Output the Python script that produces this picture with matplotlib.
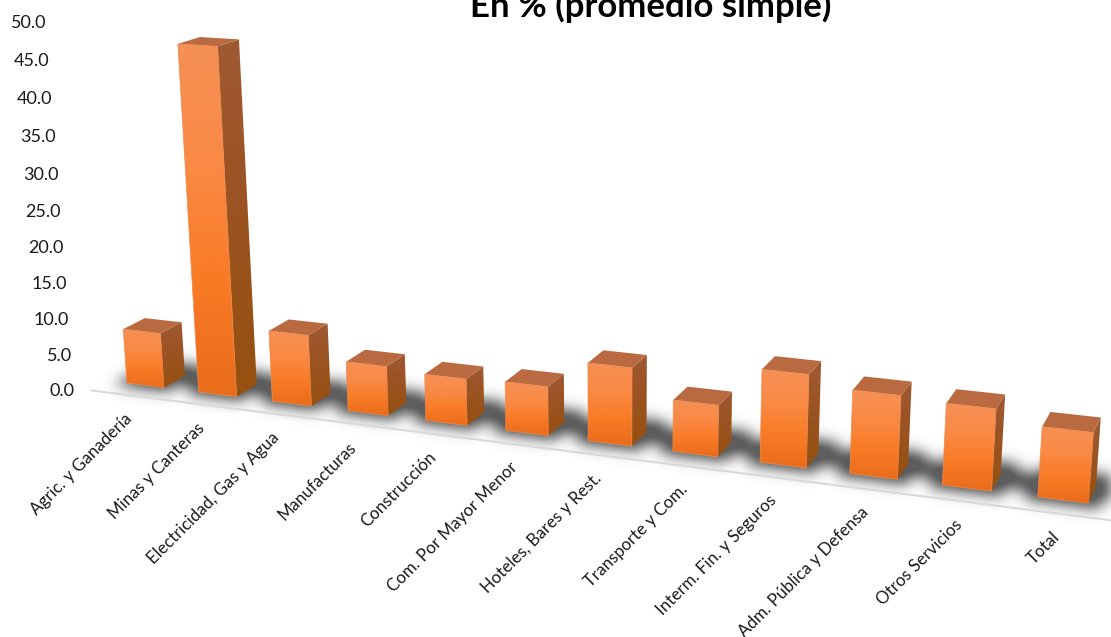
import numpy as np
import matplotlib
matplotlib.use('Agg')
import matplotlib.pyplot as plt
from matplotlib.colors import LinearSegmentedColormap
from matplotlib.path import Path
from matplotlib.patches import Polygon

plt.rcParams['font.family'] = ['Lato', 'DejaVu Sans']

categorias = ['Agric. y Ganadería', 'Minas y Canteras', 'Electricidad, Gas y Agua',
              'Manufacturas', 'Construcción', 'Com. Por Mayor Menor',
              'Hoteles, Bares y Rest.', 'Transporte y Com.', 'Interm. Fin. y Seguros',
              'Adm. Pública y Defensa', 'Otros Servicios', 'Total']
valores = [7.7, 47.2, 9.8, 6.75, 6.3, 6.55, 10.3, 6.73, 11.96, 10.6, 10.26, 8.72]
marcas_y = [0, 5, 10, 15, 20, 25, 30, 35, 40, 45, 50]
titulo = 'En % (promedio simple)'

ANCHO_BARRA = 0.519


def proy(s, h, d):
    # perspectiva del grafico 3D: s = categoria, h = valor, d = fondo
    w = 1 - 0.0132 * s - 0.001 * h + 0.0159 * d
    x = 127 + 69.1 * s - 0.614 * h + 23.7 * d
    y = 383 + 3.8 * s - 7.32 * h - 5.9 * d
    return x / w, y / w


def rellenar(ax, puntos, colores, zorder):
    pts = np.array(puntos)
    cmap = LinearSegmentedColormap.from_list('g', colores)
    im = ax.imshow(np.linspace(0, 1, 128).reshape(-1, 1), cmap=cmap, aspect='auto',
                   extent=(pts[:, 0].min(), pts[:, 0].max(), pts[:, 1].max(), pts[:, 1].min()),
                   zorder=zorder, interpolation='bilinear')
    clip = Polygon(pts, closed=True, transform=ax.transData, fc='none', ec='none')
    ax.add_patch(clip)
    im.set_clip_path(clip)


def sombra(ax):
    yy, xx = np.mgrid[0:637, 0:1111]
    grid = np.column_stack([xx.ravel() + 0.5, yy.ravel() + 0.5])
    masc = np.zeros(len(grid), dtype=bool)
    for i in range(len(valores)):
        s0, s1 = i - 0.12, i + ANCHO_BARRA + 0.12
        d0, d1 = -0.25, 1.85
        p = [proy(s0, 0, d0), proy(s1, 0, d0), proy(s1, 0, d1), proy(s0, 0, d1)]
        masc |= Path(p).contains_points(grid)
        # franja continua entre barras
        s2 = s1 + 0.3
        p = [proy(s1 - 0.1, 0, 0.3), proy(s2, 0, 0.3), proy(s2, 0, 1.4), proy(s1 - 0.1, 0, 1.4)]
        masc |= Path(p).contains_points(grid)
    m = masc.reshape(xx.shape).astype(float)
    t = np.arange(-20, 21)
    k = np.exp(-t ** 2 / (2 * 7.0 ** 2))
    k /= k.sum()
    m = np.apply_along_axis(lambda f: np.convolve(f, k, mode='same'), 0, m)
    m = np.apply_along_axis(lambda f: np.convolve(f, k, mode='same'), 1, m)
    rgba = np.zeros(m.shape + (4,))
    rgba[..., :3] = 0.33
    rgba[..., 3] = np.clip(m * 1.15, 0, 1) * 0.95
    ax.imshow(rgba, extent=(0, 1111, 637, 0), aspect='auto', zorder=1, interpolation='bilinear')


fig = plt.figure(figsize=(11.11, 6.37), dpi=100)
ax = fig.add_axes([0, 0, 1, 1])
ax.axis('off')

sombra(ax)

# linea del piso
x0, y0 = proy(-0.25, 0, -0.8)
x1, y1 = proy(11.8, 0, -0.8)
ax.plot([x0, x1], [y0, y1], color='#d9d9d9', lw=1.5, zorder=2)

for i, v in enumerate(valores):
    s0, s1 = i, i + ANCHO_BARRA
    frente = [proy(s0, v, 0), proy(s1, v, 0), proy(s1, 0, 0), proy(s0, 0, 0)]
    lado = [proy(s1, v, 0), proy(s1, v, 1), proy(s1, 0, 1), proy(s1, 0, 0)]
    arriba = [proy(s0, v, 0), proy(s0, v, 1), proy(s1, v, 1), proy(s1, v, 0)]
    rellenar(ax, frente, ['#f69055', '#f98a45', '#f97b26', '#e96c1b'], 3)
    rellenar(ax, lado, ['#a05a32', '#9c5427', '#99521a', '#96500f'], 3)
    ax.add_patch(Polygon(arriba, closed=True, fc='#b96a41', ec='none', zorder=3))
    ax.add_patch(Polygon(frente, closed=True, fc='none', ec='#f08a50', lw=0.5, zorder=4))

# etiquetas del eje y
for m in marcas_y:
    x, y = proy(-0.25, m, -0.8)
    ax.text(x - 17, y + 0.5, f'{m:.1f}', ha='right', va='center', fontsize=13, color='#1a1a1a', zorder=5)

# etiquetas de categorias
for i, c in enumerate(categorias):
    x, y = proy(i + ANCHO_BARRA / 2, 0, -0.8)
    ax.text(x + 1, y + 21, c, rotation=45, rotation_mode='anchor', ha='right', va='center',
            fontsize=12.2, color='#1a1a1a', zorder=5)

ax.text(651, 17, titulo, ha='center', va='baseline', fontsize=25, fontweight='bold',
        color='black', zorder=5)

ax.set_xlim(0, 1111)
ax.set_ylim(637, 0)
fig.savefig('out.png', dpi=100)
